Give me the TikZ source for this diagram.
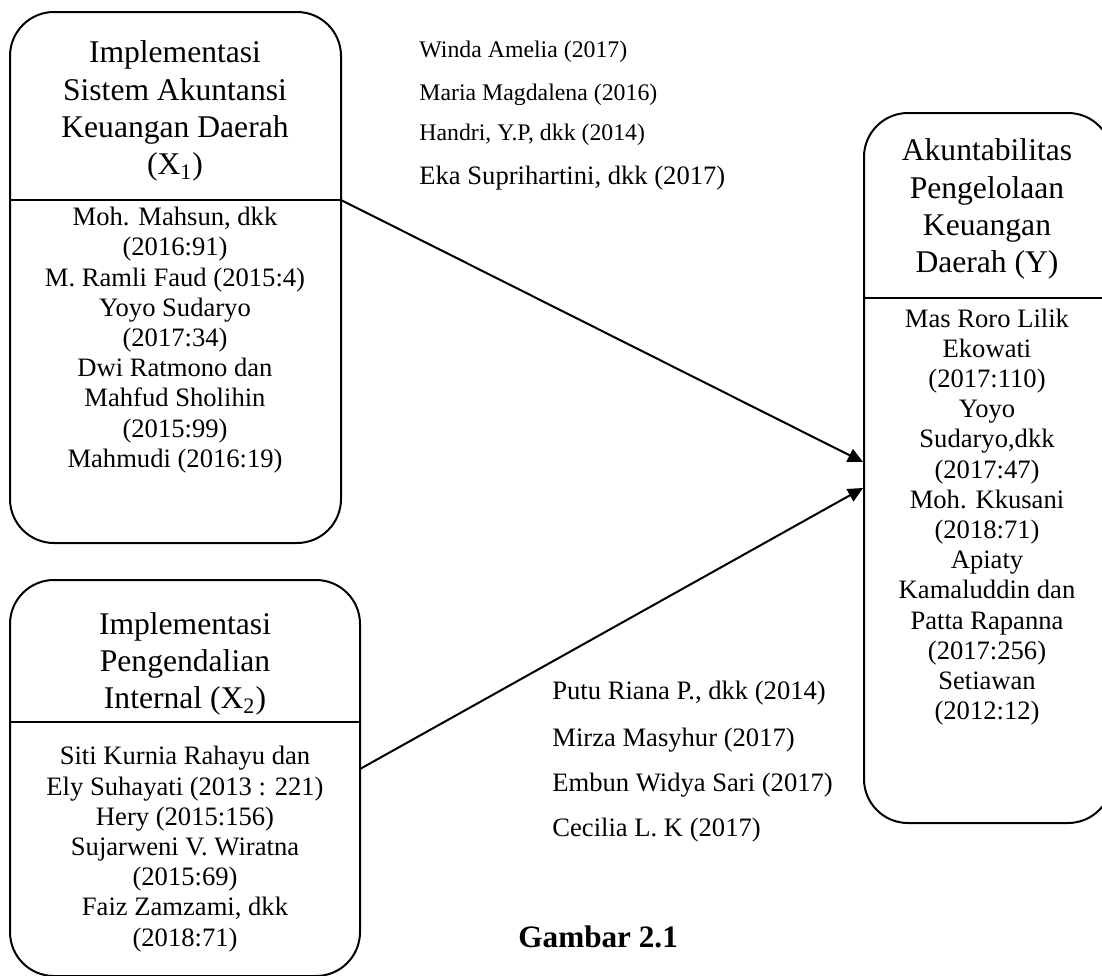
\documentclass[tikz,border=0pt]{standalone}
\usepackage{fontspec}
\setmainfont{Liberation Serif}
\usetikzlibrary{fit,arrows.meta}
\begin{document}
\begin{tikzpicture}[x=0.5pt,y=-0.5pt,
  box/.style={draw,line width=1pt,rounded corners=22pt,inner sep=0pt},
  ttl/.style={align=center,font=\fontsize{15.8}{18.6}\selectfont,inner sep=0pt},
  bdy/.style={align=center,font=\fontsize{13.3}{15.1}\selectfont,inner sep=0pt},
  lbl/.style={anchor=west,inner sep=0pt,font=\fontsize{13.3}{15}\selectfont},
  lbls/.style={anchor=west,inner sep=0pt,font=\fontsize{11.9}{14}\selectfont},
  conn/.style={line width=1pt,-{Triangle[length=7.5pt,width=7pt]}},
  divline/.style={line width=1pt}]
\useasboundingbox (0,0) rectangle (1102,975);

% boxes
\node[box,fit={(10,12) (341,543)}] (x1) {};
\node[box,fit={(10,580) (360,976)}] (x2) {};
\node[box,fit={(864,113) (1112,823)}] (y) {};

% dividers
\coordinate (x1dl) at (10,200);
\coordinate (x1dr) at (341,200);
\coordinate (x2dl) at (10,722);
\coordinate (x2dr) at (360,722);
\coordinate (ydl) at (864,298);
\coordinate (ydr) at (1112,298);
\draw[divline] (x1dl) -- (x1dr);
\draw[divline] (x2dl) -- (x2dr);
\draw[divline] (ydl) -- (ydr);

% box texts
\node[ttl] (x1t) at (175,111) {Implementasi\\Sistem Akuntansi\\Keuangan Daerah\\(X\textsubscript{1})};
\node[bdy] (x1b) at (175,340) {Moh. Mahsun, dkk\\(2016:91)\\M. Ramli Faud (2015:4)\\Yoyo Sudaryo\\(2017:34)\\Dwi Ratmono dan\\Mahfud Sholihin\\(2015:99)\\Mahmudi (2016:19)};
\node[ttl] (x2t) at (185,664) {Implementasi\\Pengendalian\\Internal (X\textsubscript{2})};
\node[bdy] (x2b) at (185,849) {Siti Kurnia Rahayu dan\\Ely Suhayati (2013 : 221)\\Hery (2015:156)\\Sujarweni V. Wiratna\\(2015:69)\\Faiz Zamzami, dkk\\(2018:71)};
\node[ttl] (yt) at (987,209) {Akuntabilitas\\Pengelolaan\\Keuangan\\Daerah (Y)};
\node[bdy] (yb) at (987,517) {Mas Roro Lilik\\Ekowati\\(2017:110)\\Yoyo\\Sudaryo,dkk\\(2017:47)\\Moh. Kkusani\\(2018:71)\\Apiaty\\Kamaluddin dan\\Patta Rapanna\\(2017:256)\\Setiawan\\(2012:12)};

% connectors
\coordinate (x2out) at (360,769);
\coordinate (yin1) at (863,462);
\coordinate (yin2) at (863,488);
\draw[conn] (x1dr) -- (yin1);
\draw[conn] (x2out) -- (yin2);

% reference labels
\node[lbls] (r1) at (419,52) {Winda Amelia (2017)};
\node[lbls] (r2) at (419,95) {Maria Magdalena (2016)};
\node[lbls] (r3) at (419,135) {Handri, Y.P, dkk (2014)};
\node[lbl] (r4) at (419,178) {Eka Suprihartini, dkk (2017)};
\node[lbl] (s1) at (552,693) {Putu Riana P., dkk (2014)};
\node[lbl] (s2) at (552,740) {Mirza Masyhur (2017)};
\node[lbl] (s3) at (552,785) {Embun Widya Sari (2017)};
\node[lbl] (s4) at (552,830) {Cecilia L. K (2017)};

\node[anchor=west,inner sep=0pt,font=\bfseries\fontsize{15.6}{18}\selectfont] (cap) at (518,937) {Gambar 2.1};
\end{tikzpicture}
\end{document}
